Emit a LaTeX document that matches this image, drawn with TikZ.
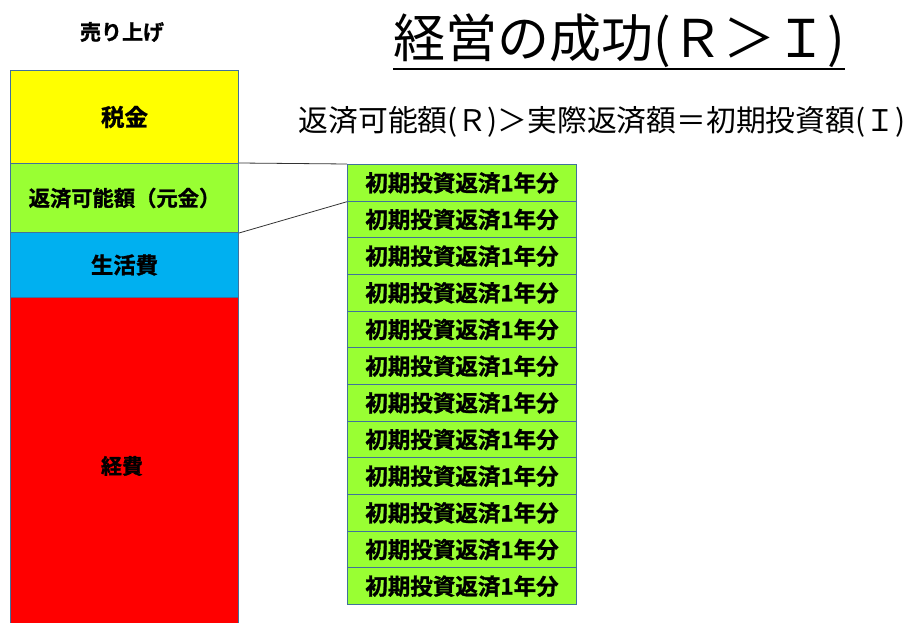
\documentclass[tikz,border=0pt]{standalone}
\usepackage{fontspec}
\setmainfont{Noto Sans CJK JP}
\newfontfamily\jpbold{Noto Sans CJK JP Bold}[FakeBold=1.2]
\definecolor{cyel}{HTML}{FFFF00}
\definecolor{cgrn}{HTML}{99FF33}
\definecolor{cblu}{HTML}{00B0F0}
\definecolor{cred}{HTML}{FF0000}
\definecolor{cbord}{HTML}{41719C}
\newcommand{\bsz}[1]{\jpbold\fontsize{#1}{#1}\selectfont}
\begin{document}
\begin{tikzpicture}[x=1pt,y=-1pt,
  colbox/.style={draw=cbord,line width=1pt,minimum width=228pt,inner sep=0pt,anchor=north west},
  yearbox/.style={draw=cbord,line width=1pt,fill=cgrn,minimum width=229pt,minimum height=36.7pt,inner sep=0pt,anchor=north west,font=\bsz{22.5}},
  link/.style={draw=black!80,line width=0.8pt}]
\useasboundingbox (0,0) rectangle (910,623);
\node[font=\bsz{21}] (sales) at (122,32) {売り上げ};
\node[colbox,fill=cyel,minimum height=93pt,font=\bsz{23.5}] (tax) at (10,70) {税金};
\node[colbox,fill=cgrn,minimum height=69pt,font=\bsz{21.3}] (repay) at (10,163) {返済可能額（元金）};
\node[colbox,fill=cblu,minimum height=65pt,font=\bsz{22.4}] (living) at (10,232) {生活費};
\begin{scope}
\clip (0,0) rectangle (910,623);
\node[colbox,fill=cred,minimum height=340pt] (cost) at (10,297) {};
\end{scope}
\node[font=\bsz{21}] (costlabel) at (122,466) {経費};
\foreach \i in {0,...,11}{
  \node[yearbox] (y\i) at (347,{164+36.67*\i}) {初期投資返済1年分};
}
\draw[link] (repay.north east) -- (y0.north west);
\draw[link] (repay.south east) -- (y0.south west);
\node[font=\fontsize{52}{52}\selectfont,inner sep=0pt] (title) at (619,41) {経営の成功(Ｒ＞Ｉ)};
\draw[line width=2.6pt] (title.west |- 0,69) -- (title.east |- 0,69);
\node[font=\fontsize{29.8}{29.8}\selectfont,inner sep=0pt] (sub) at (602,122) {返済可能額(Ｒ)＞実際返済額＝初期投資額(Ｉ)};
\end{tikzpicture}
\end{document}
